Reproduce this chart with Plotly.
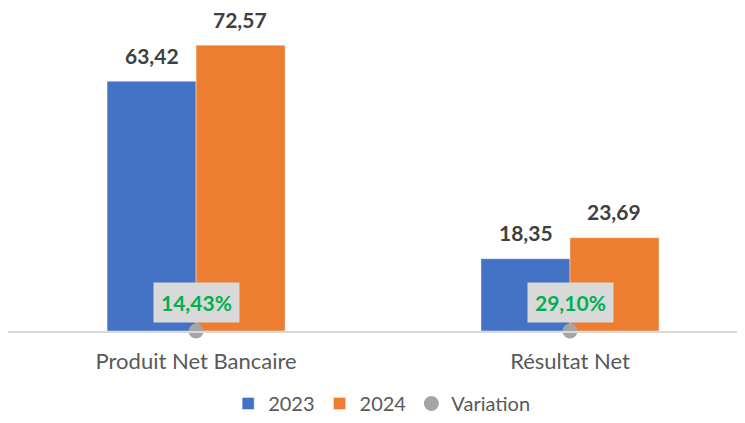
import plotly.graph_objects as go

categories = ["Produit Net Bancaire", "Résultat Net"]
values_2023 = [63.42, 18.35]
values_2024 = [72.57, 23.69]
variation = ["14,43%", "29,10%"]

BLUE = "#4472C4"
ORANGE = "#ED7D31"
GREY = "#A5A5A5"
FONT = "Lato"


def fr(v):
    return f"{v:.2f}".replace(".", ",")


fig = go.Figure()
fig.add_trace(go.Bar(x=categories, y=values_2023, name="2023", marker_color=BLUE,
                     hoverinfo="none"))
fig.add_trace(go.Bar(x=categories, y=values_2024, name="2024", marker_color=ORANGE,
                     hoverinfo="none"))
fig.add_trace(go.Scatter(x=categories, y=[0] * len(categories), name="Variation",
                         mode="markers", marker=dict(color=GREY, size=15),
                         cliponaxis=False, hoverinfo="none"))

# value labels above bars
for vals, shift in [(values_2023, -44), (values_2024, 44)]:
    for c, v in zip(categories, vals):
        fig.add_annotation(x=c, y=v, text=f"<b>{fr(v)}</b>", showarrow=False,
                           xshift=shift, yshift=26,
                           font=dict(family=FONT, size=21, color="#404040"))

# variation labels
for c, t in zip(categories, variation):
    fig.add_annotation(x=c, y=0, text=f"<b>{t}</b>", showarrow=False, yshift=29,
                       bgcolor="#D9D9D9", borderpad=7,
                       font=dict(family=FONT, size=21, color="#00B050"))

# page body keeps an 8px margin, so the figure is sized to fit the window
fig.update_layout(
    width=737, height=415,
    margin=dict(l=0, r=0, t=8, b=92, autoexpand=False),
    plot_bgcolor="white", paper_bgcolor="white",
    barmode="group", bargap=0.524, bargroupgap=0,
    font=dict(family=FONT, size=21, color="#595959"),
    showlegend=True,
    legend=dict(orientation="h", x=0.507, xanchor="center", y=0, yref="container",
                yanchor="bottom", font=dict(size=20, color="#595959"), itemwidth=30),
    xaxis=dict(range=[-0.503, 1.468], showline=True, linecolor="#D9D9D9", linewidth=2,
               ticks="", ticklabelstandoff=10, automargin=False,
               tickfont=dict(size=22, color="#595959")),
    yaxis=dict(range=[0, 80], visible=False, showgrid=False, zeroline=False,
               automargin=False),
)

fig.write_html("out.html")
